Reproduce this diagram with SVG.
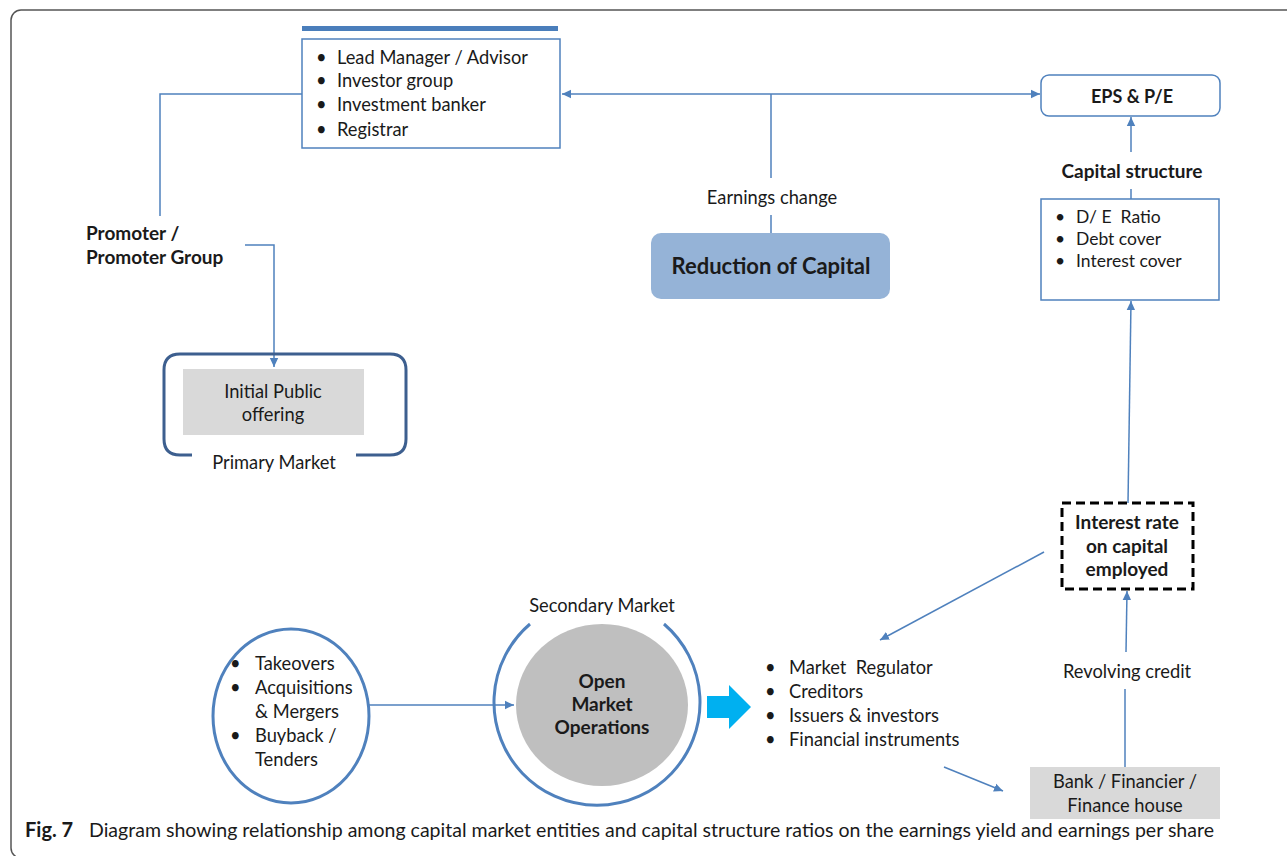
<svg xmlns="http://www.w3.org/2000/svg" width="1287" height="856" viewBox="0 0 1287 856">
<style>
text{font-family:Lato,"Liberation Sans",sans-serif;fill:#1a1a1a;font-size:18.3px}
.b{font-weight:bold;font-size:19px}
.c{text-anchor:middle}
.s{font-size:17.5px}
.ln{fill:none;stroke:#4f81bd;stroke-width:1.5}
</style>
<defs>
<marker id="ah" markerUnits="userSpaceOnUse" markerWidth="10" markerHeight="10" refX="9" refY="5" orient="auto">
<path d="M0,0.8 L9,5 L0,9.2 Z" fill="#4f81bd"/>
</marker>
</defs>
<rect x="11" y="10" width="1300" height="848" rx="10" fill="#fff" stroke="#555" stroke-width="1.5"/>

<g id="connectors">
<polyline class="ln" points="302,94 160,94 160,216"/>
<polyline class="ln" points="245,245 274,245 274,367" marker-end="url(#ah)"/>
<line class="ln" x1="771" y1="94" x2="562" y2="94" marker-end="url(#ah)"/>
<line class="ln" x1="771" y1="94" x2="1040" y2="94" marker-end="url(#ah)"/>
<line class="ln" x1="771" y1="94" x2="771" y2="178"/>
<line class="ln" x1="771" y1="215" x2="771" y2="233"/>
<line class="ln" x1="1131" y1="152" x2="1131" y2="117" marker-end="url(#ah)"/>
<line class="ln" x1="1131" y1="189" x2="1131" y2="199"/>
<line class="ln" x1="1128" y1="503" x2="1131" y2="301" marker-end="url(#ah)"/>
<line class="ln" x1="1044" y1="552" x2="880" y2="640" marker-end="url(#ah)"/>
<line class="ln" x1="1126" y1="652" x2="1127" y2="591" marker-end="url(#ah)"/>
<line class="ln" x1="1125" y1="689" x2="1125" y2="767"/>
<line class="ln" x1="944" y1="767" x2="1003" y2="791" marker-end="url(#ah)"/>
<line class="ln" x1="369" y1="705" x2="514" y2="705" marker-end="url(#ah)"/>
</g>

<g id="advisors">
<rect x="302" y="26" width="256" height="5" fill="#4a7ebb"/>
<rect x="302" y="39" width="258" height="109" fill="#fff" stroke="#4f81bd" stroke-width="1.5"/>
<text x="316" y="64">•</text><text x="337" y="64">Lead Manager / Advisor</text>
<text x="316" y="87">•</text><text x="337" y="87">Investor group</text>
<text x="316" y="111">•</text><text x="337" y="111">Investment banker</text>
<text x="316" y="136">•</text><text x="337" y="136">Registrar</text>
</g>

<g id="promoter">
<text class="b" x="86" y="240">Promoter /</text>
<text class="b" x="86" y="264">Promoter Group</text>
</g>

<g id="primary-market">
<path d="M192,455 L180,455 Q164,455 164,439 L164,370 Q164,354 180,354 L390,354 Q406,354 406,370 L406,439 Q406,455 390,455 L356,455" fill="none" stroke="#3d5f8f" stroke-width="3"/>
<text class="c" x="274" y="469">Primary Market</text>
</g>

<g id="ipo">
<rect x="183" y="369" width="181" height="66" fill="#d9d9d9"/>
<text class="c" x="273" y="398">Initial Public</text>
<text class="c" x="273" y="421">offering</text>
</g>

<g id="earnings-change">
<text class="c" x="772" y="204">Earnings change</text>
</g>

<g id="reduction">
<rect x="651" y="233" width="239" height="66" rx="10" fill="#95b3d7"/>
<text class="b c" x="771" y="274" style="font-size:22px">Reduction of Capital</text>
</g>

<g id="eps">
<rect x="1041" y="75" width="179" height="41" rx="8" fill="#fff" stroke="#4f81bd" stroke-width="1.5"/>
<text class="b c" x="1132" y="103" style="font-size:18px">EPS &amp; P/E</text>
</g>

<g id="capital-structure">
<text class="b c" x="1132" y="178">Capital structure</text>
<rect x="1041" y="199" width="178" height="101" fill="#fff" stroke="#4f81bd" stroke-width="1.5"/>
<text class="s" x="1055" y="223">•</text><text class="s" x="1076" y="223" xml:space="preserve">D/ E  Ratio</text>
<text class="s" x="1055" y="245">•</text><text class="s" x="1076" y="245">Debt cover</text>
<text class="s" x="1055" y="267">•</text><text class="s" x="1076" y="267">Interest cover</text>
</g>

<g id="interest-rate">
<rect x="1062" y="503" width="131" height="86" fill="#fff" stroke="#000" stroke-width="3" stroke-dasharray="9,5"/>
<text class="b c" x="1127" y="529">Interest rate</text>
<text class="b c" x="1127" y="553">on capital</text>
<text class="b c" x="1127" y="576">employed</text>
</g>

<g id="revolving">
<text class="c" x="1127" y="678">Revolving credit</text>
</g>

<g id="bank">
<rect x="1030" y="767" width="190" height="52" fill="#d9d9d9"/>
<text class="c" x="1125" y="788">Bank / Financier /</text>
<text class="c" x="1125" y="812">Finance house</text>
</g>

<g id="participants">
<text x="765" y="674">•</text><text x="789" y="674" xml:space="preserve">Market  Regulator</text>
<text x="765" y="698">•</text><text x="789" y="698">Creditors</text>
<text x="765" y="722">•</text><text x="789" y="722">Issuers &amp; investors</text>
<text x="765" y="746">•</text><text x="789" y="746">Financial instruments</text>
</g>

<g id="transactions">
<ellipse cx="291" cy="716" rx="78" ry="87" fill="#fff" stroke="#4f81bd" stroke-width="3"/>
<text x="230" y="670">•</text><text x="255" y="670">Takeovers</text>
<text x="230" y="694">•</text><text x="255" y="694">Acquisitions</text>
<text x="255" y="718">&amp; Mergers</text>
<text x="230" y="742">•</text><text x="255" y="742">Buyback /</text>
<text x="255" y="766">Tenders</text>
</g>

<g id="secondary-market">
<path d="M664,624 A103,103 0 1 1 530,624" fill="none" stroke="#4f81bd" stroke-width="3"/>
<text class="c" x="602" y="612">Secondary Market</text>
<ellipse cx="602" cy="705" rx="86" ry="81" fill="#bfbfbf"/>
<text class="b c" x="602" y="688">Open</text>
<text class="b c" x="602" y="711">Market</text>
<text class="b c" x="602" y="734">Operations</text>
</g>

<g id="block-arrow">
<path d="M707,696 L729,696 L729,685 L751,707 L729,729 L729,718 L707,718 Z" fill="#00b0f0"/>
</g>

<g id="caption">
<text class="b" x="25" y="837" style="font-size:20px">Fig. 7</text>
<text x="89" y="837" style="font-size:19px" textLength="1125" lengthAdjust="spacingAndGlyphs">Diagram showing relationship among capital market entities and capital structure ratios on the earnings yield and earnings per share</text>
</g>
</svg>
